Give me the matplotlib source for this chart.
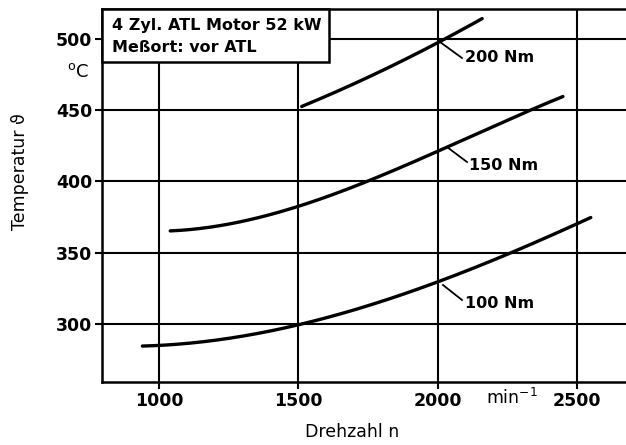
import matplotlib
matplotlib.use("Agg")
import matplotlib.pyplot as plt
from matplotlib.patches import Rectangle
import numpy as np

# Data
n_100 = [940, 1000, 1250, 1500, 1750, 2000, 2250, 2550]
t_100 = [284.8, 285, 289, 300, 313, 330, 348, 375]
n_150 = [1040, 1100, 1250, 1500, 1750, 2000, 2250, 2450]
t_150 = [365.5, 366, 370, 382, 401, 421.5, 442, 460]
n_200 = [1512, 1830, 2000, 2160]
t_200 = [452.7, 480, 498, 514]
series_labels = ["100 Nm", "150 Nm", "200 Nm"]
x_ticks = [1000, 1500, 2000, 2500]
y_ticks = [300, 350, 400, 450, 500]
title_lines = ["4 Zyl. ATL Motor 52 kW", "Meßort: vor ATL"]

W, H = 626, 445
fig = plt.figure(figsize=(W / 100, H / 100), dpi=100)
bold_fam = ['DejaVu Sans']

# axes in pixel layout
left_px, right_px, top_px, bot_px = 102, 628, 9, 382
ax = fig.add_axes([left_px / W, 1 - bot_px / H, (right_px - left_px) / W, (bot_px - top_px) / H])
ax.set_xlim(795, 795 + (right_px - left_px) / 278.5 * 1000)
ax.set_ylim(259.3, 521)

ax.set_xticks(x_ticks)
ax.set_yticks(y_ticks)
ax.set_xticklabels([str(v) for v in x_ticks], fontweight='bold', family=bold_fam, fontsize=12.5)
ax.set_yticklabels([str(v) for v in y_ticks], fontweight='bold', family=bold_fam, fontsize=12.5)
ax.tick_params(direction='out', length=5, width=1.5, pad=2)
ax.grid(True, color='black', linewidth=1.5)
ax.set_axisbelow(True)
for s in ax.spines.values():
    s.set_linewidth(1.8)

def smooth(xs, ys, deg):
    xs = np.asarray(xs, float); ys = np.asarray(ys, float)
    c = np.polyfit(xs, ys, deg)
    xx = np.linspace(xs[0], xs[-1], 200)
    return xx, np.polyval(c, xx)

for xs, ys, deg in [(n_100, t_100, 3), (n_150, t_150, 3), (n_200, t_200, 2)]:
    xx, yy = smooth(xs, ys, deg)
    ax.plot(xx, yy, color='black', linewidth=2.4, solid_capstyle='round', zorder=3)

# labels with leader lines
def px2data(px, py):
    x0, x1 = ax.get_xlim(); y0, y1 = ax.get_ylim()
    return (x0 + (px - left_px) / (right_px - left_px) * (x1 - x0),
            y1 - (py - top_px) / (bot_px - top_px) * (y1 - y0))

leaders = [((443, 285), (462, 300), (465, 303)),
           ((447, 147), (467, 162), (469, 165)),
           ((440, 42), (462, 58), (465, 57))]
for lab, (p0, p1, pt) in zip(series_labels, leaders):
    a = px2data(*p0); b = px2data(*p1); c = px2data(*pt)
    ax.plot([a[0], b[0]], [a[1], b[1]], color='black', linewidth=1.3, zorder=3)
    ax.text(c[0], c[1], lab, fontweight='bold', family=bold_fam, fontsize=11.5,
            ha='left', va='center', zorder=4)

# title box
bx0, by1 = px2data(102, 9)
bx1, by0 = px2data(329, 62)
ax.add_patch(Rectangle((bx0, by0), bx1 - bx0, by1 - by0, facecolor='white',
                       edgecolor='black', linewidth=1.8, zorder=5, clip_on=False))
tx, ty1 = px2data(112, 25)
_, ty2 = px2data(112, 47)
ax.text(tx, ty1, title_lines[0], fontweight='bold', family=bold_fam, fontsize=11.5,
        ha='left', va='center', zorder=6)
ax.text(tx, ty2, title_lines[1], fontweight='bold', family=bold_fam, fontsize=11.5,
        ha='left', va='center', zorder=6)

# unit labels
fig.text(78 / W, 1 - 72 / H, "$^{\\mathregular{o}}$C", fontsize=13, ha='center', va='center')
fig.text(512 / W, 1 - 398 / H, "min$^{\\mathregular{-1}}$", fontsize=12.5, ha='center', va='center')

fig.text(352 / W, 1 - 432 / H, "Drehzahl n", fontsize=12.5, ha='center', va='center')
fig.text(20 / W, 1 - 172 / H, "Temperatur ϑ", fontsize=12.5, ha='center', va='center', rotation=90)

fig.savefig("out.png", dpi=100)
